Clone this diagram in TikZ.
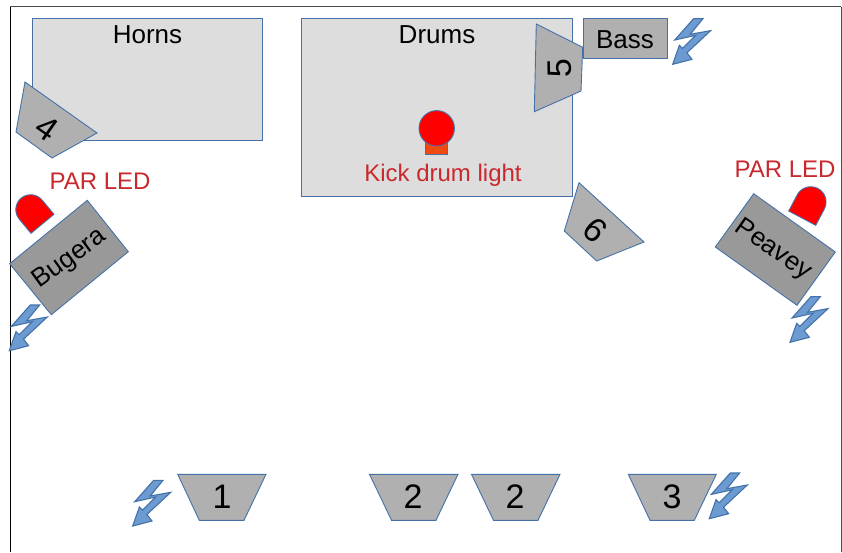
\documentclass[tikz,border=0pt]{standalone}
\usepackage{fontspec}
\setmainfont{Liberation Sans}
\definecolor{edgeblue}{HTML}{4472A8}
\definecolor{boltfill}{HTML}{6C9BD2}
\definecolor{stagegray}{HTML}{DDDDDD}
\definecolor{spkgray}{HTML}{B0B0B0}
\definecolor{ampgray}{HTML}{999999}
\definecolor{ledtext}{HTML}{C9282D}
\definecolor{kickorange}{HTML}{F04A10}
\tikzset{
  shapeline/.style={draw=edgeblue,line width=0.9pt,line join=miter},
  stagearea/.style={shapeline,fill=stagegray},
  spk/.style={shapeline,fill=spkgray},
  amp/.style={shapeline,fill=ampgray},
  led/.style={shapeline,fill=red},
  lab/.style={inner sep=0pt,font=\fontsize{26}{30}\selectfont},
  digit/.style={inner sep=0pt,font=\fontsize{34}{38}\selectfont},
  amplab/.style={inner sep=0pt,font=\fontsize{26}{30}\selectfont},
  redlab/.style={inner sep=0pt,text=ledtext,font=\fontsize{24}{28}\selectfont},
  pics/bolt/.style={code={
    \draw[draw=edgeblue,fill=boltfill,line width=1.1pt,miter limit=4]
      (21,-45.7)--(30.3,-45.7)--(17.5,-30)--(38,-33.7)--(14.2,-11.5)--(19.3,-5)--(0,0)
      --(6.7,-19)--(9.8,-16)--(23,-29)--(2,-24.3)--cycle;
  }}
}
\begin{document}
\begin{tikzpicture}[x=1pt,y=-1pt]
\useasboundingbox (0,0) rectangle (842,552);
\fill[white] (0,0) rectangle (842,552);
% frame
\draw[black,line width=1.1pt] (10.7,552)--(10.7,6.7);
\draw[black!70,line width=1.3pt] (10.2,6.7)--(841.3,6.7);
\draw[black!70,line width=1.5pt] (841.3,6.7)--(841.3,552);
% stage areas
\draw[stagearea] (32.5,18) rectangle (262.5,140);
\node[lab] (horns) at (147.5,34.5) {Horns};
\draw[stagearea] (301.7,18) rectangle (572,196);
\node[lab] (drums) at (437,34.5) {Drums};
% kick
\draw[shapeline,fill=kickorange] (425.3,141.7) rectangle (447,154);
\draw[led] (436.7,128.3) circle[radius=17.7];
\node[redlab] (kick) at (443,175.5) {Kick drum light};
% bass
\draw[shapeline,fill=spkgray] (583,18) rectangle (667,58);
\node[lab] (bass) at (625,39.5) {Bass};
% rotated monitors
\draw[spk] (25,82)--(97,133)--(52,158)--(16,132)--cycle;
\node[digit,rotate=-35] (m4) at (47,128) {4};
\draw[spk] (536.3,24)--(582.7,47.3)--(581,91)--(534.3,111.7)--cycle;
\node[digit,rotate=91] (m5) at (560,68) {5};
\draw[spk] (579,182.7)--(644,242)--(596.7,261)--(564.3,231)--cycle;
\node[digit,rotate=-42] (m6) at (595,230) {6};
% amps
\draw[amp] (87.3,200.3)--(128.3,251.7)--(51.3,314.7)--(9.7,263.7)--cycle;
\node[amplab,rotate=36] (bugera) at (70,259) {Bugera};
\draw[amp] (753.7,193.7)--(835.3,252)--(797,305.3)--(715.3,247)--cycle;
\node[amplab,rotate=-35] (peavey) at (773,250) {Peavey};
% PAR LEDs
\draw[led] (54,214.3)--(42.2,200.1) .. controls (37,193.8) and (27.5,192.9) .. (21.2,198.1)
  .. controls (14.9,203.3) and (14,212.8) .. (19.2,219.1)--(31,233.3)--cycle;
\node[redlab] (parl) at (100,181) {PAR LED};
\draw[led] (788.7,211)--(797.3,194.7) .. controls (801.2,187.3) and (810.6,184.6) .. (818,188.5)
  .. controls (825.4,192.4) and (828.2,201.6) .. (824.3,209)--(815.7,225.3)--cycle;
\node[redlab] (parr) at (785,169) {PAR LED};
% bottom monitors
\draw[spk] (177.7,474.3)--(266,474.3)--(244,520.3)--(199.3,520.3)--cycle;
\node[digit] (m1) at (222,497) {1};
\draw[spk] (369.5,474.3)--(458,474.3)--(436,520.3)--(391.5,520.3)--cycle;
\node[digit] (m2a) at (413,497) {2};
\draw[spk] (471.5,474.3)--(560,474.3)--(538,520.3)--(493.5,520.3)--cycle;
\node[digit] (m2b) at (515,497) {2};
\draw[spk] (628.3,474.3)--(716.3,474.3)--(694.3,520.3)--(650,520.3)--cycle;
\node[digit] (m3) at (672,497) {3};
% bolts
\pic at (672.7,64.3) {bolt};
\pic at (9.3,350.7) {bolt};
\pic at (790,342.3) {bolt};
\pic at (132.7,526) {bolt};
\pic at (709.3,518.7) {bolt};
\end{tikzpicture}
\end{document}
